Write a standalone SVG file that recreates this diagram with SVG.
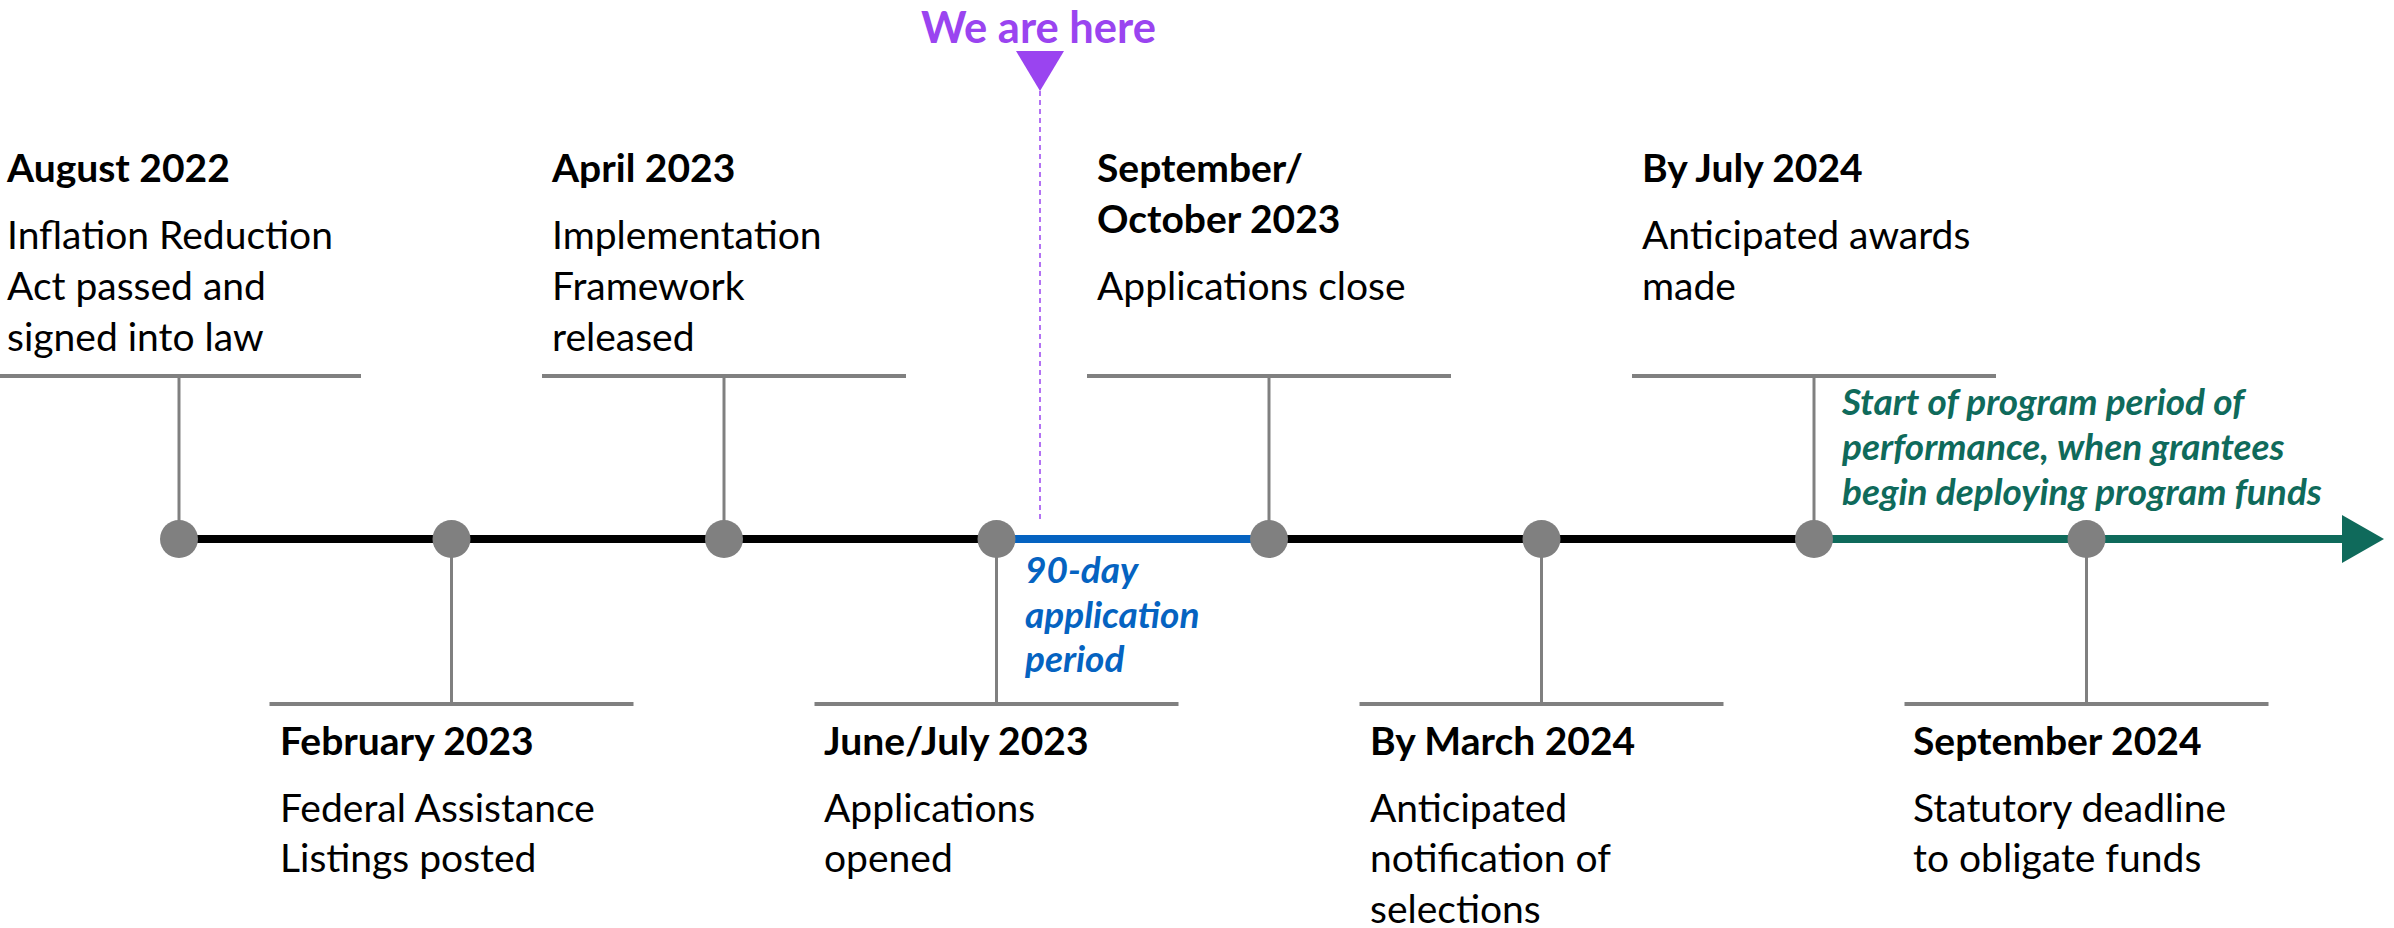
<svg xmlns="http://www.w3.org/2000/svg" width="2394" height="928" viewBox="0 0 2394 928">
<style>
  text{font-family:Lato,"Liberation Sans",sans-serif}
  .t{font-size:39px;font-weight:700;fill:#000}
  .b{font-size:39px;font-weight:400;fill:#000}
  .bar{stroke:#808080;stroke-width:4;fill:none}
  .stem{stroke:#808080;stroke-width:3;fill:none}
  .dot{fill:#808080}
  .seg{stroke-width:8;fill:none}
  .note{font-size:37px;font-weight:700;font-style:italic}
</style>
<defs>
  <marker id="arr" markerUnits="userSpaceOnUse" markerWidth="42" markerHeight="48" refX="0" refY="24" orient="auto" viewBox="0 0 42 48">
    <path d="M0,0 L42,24 L0,48 Z" fill="#0F6A5B"/>
  </marker>
</defs>
<rect width="2394" height="928" fill="#fff"/>

<g id="connectors">
  <path class="seg" stroke="#000" d="M179,539 H996.5"/>
  <path class="seg" stroke="#0563C1" d="M996.5,539 H1269"/>
  <path class="seg" stroke="#000" d="M1269,539 H1814"/>
  <path class="seg" stroke="#0F6A5B" d="M1814,539 H2342" marker-end="url(#arr)"/>
</g>

<g id="we-are-here">
  <text x="921" y="43" font-size="43.5" font-weight="700" fill="#9A44F0">We are here</text>
  <polygon points="1016,51 1064,51 1040,91" fill="#9A44F0"/>
  <line x1="1040" y1="91" x2="1040" y2="519" stroke="#9A44F0" stroke-width="1.5" stroke-dasharray="5 4"/>
</g>

<g id="ev-aug2022">
  <line class="bar" x1="-3" y1="376" x2="361" y2="376"/>
  <line class="stem" x1="179" y1="376" x2="179" y2="539"/>
  <circle class="dot" cx="179" cy="539" r="19"/>
  <text class="t" x="7" y="182">August 2022</text>
  <text class="b" x="7" y="249">Inflation Reduction</text>
  <text class="b" x="7" y="300">Act passed and</text>
  <text class="b" x="7" y="351">signed into law</text>
</g>

<g id="ev-feb2023">
  <line class="bar" x1="269.5" y1="704" x2="633.5" y2="704"/>
  <line class="stem" x1="451.5" y1="539" x2="451.5" y2="704"/>
  <circle class="dot" cx="451.5" cy="539" r="19"/>
  <text class="t" x="280" y="755">February 2023</text>
  <text class="b" x="280" y="822">Federal Assistance</text>
  <text class="b" x="280" y="872">Listings posted</text>
</g>

<g id="ev-apr2023">
  <line class="bar" x1="542" y1="376" x2="906" y2="376"/>
  <line class="stem" x1="724" y1="376" x2="724" y2="539"/>
  <circle class="dot" cx="724" cy="539" r="19"/>
  <text class="t" x="552" y="182">April 2023</text>
  <text class="b" x="552" y="249">Implementation</text>
  <text class="b" x="552" y="300">Framework</text>
  <text class="b" x="552" y="351">released</text>
</g>

<g id="ev-junjul2023">
  <line class="bar" x1="814.5" y1="704" x2="1178.5" y2="704"/>
  <line class="stem" x1="996.5" y1="539" x2="996.5" y2="704"/>
  <circle class="dot" cx="996.5" cy="539" r="19"/>
  <text class="t" x="824" y="755">June/July 2023</text>
  <text class="b" x="824" y="822">Applications</text>
  <text class="b" x="824" y="872">opened</text>
</g>

<g id="ev-septoct2023">
  <line class="bar" x1="1087" y1="376" x2="1451" y2="376"/>
  <line class="stem" x1="1269" y1="376" x2="1269" y2="539"/>
  <circle class="dot" cx="1269" cy="539" r="19"/>
  <text class="t" x="1097" y="182">September/</text>
  <text class="t" x="1097" y="233">October 2023</text>
  <text class="b" x="1097" y="300">Applications close</text>
</g>

<g id="ev-mar2024">
  <line class="bar" x1="1359.5" y1="704" x2="1723.5" y2="704"/>
  <line class="stem" x1="1541.5" y1="539" x2="1541.5" y2="704"/>
  <circle class="dot" cx="1541.5" cy="539" r="19"/>
  <text class="t" x="1370" y="755">By March 2024</text>
  <text class="b" x="1370" y="822">Anticipated</text>
  <text class="b" x="1370" y="872">notification of</text>
  <text class="b" x="1370" y="923">selections</text>
</g>

<g id="ev-jul2024">
  <line class="bar" x1="1632" y1="376" x2="1996" y2="376"/>
  <line class="stem" x1="1814" y1="376" x2="1814" y2="539"/>
  <circle class="dot" cx="1814" cy="539" r="19"/>
  <text class="t" x="1642" y="182">By July 2024</text>
  <text class="b" x="1642" y="249">Anticipated awards</text>
  <text class="b" x="1642" y="300">made</text>
</g>

<g id="ev-sep2024">
  <line class="bar" x1="1904.5" y1="704" x2="2268.5" y2="704"/>
  <line class="stem" x1="2086.5" y1="539" x2="2086.5" y2="704"/>
  <circle class="dot" cx="2086.5" cy="539" r="19"/>
  <text class="t" x="1913" y="755">September 2024</text>
  <text class="b" x="1913" y="822">Statutory deadline</text>
  <text class="b" x="1913" y="872">to obligate funds</text>
</g>

<g id="note-application-period">
  <text class="note" fill="#0563C1" x="1025" y="583">90-day</text>
  <text class="note" fill="#0563C1" x="1025" y="628">application</text>
  <text class="note" fill="#0563C1" x="1025" y="672">period</text>
</g>

<g id="note-program-period">
  <text class="note" fill="#0F6A5B" x="1842" y="415">Start of program period of</text>
  <text class="note" fill="#0F6A5B" x="1842" y="460">performance, when grantees</text>
  <text class="note" fill="#0F6A5B" x="1842" y="505">begin deploying program funds</text>
</g>
</svg>
